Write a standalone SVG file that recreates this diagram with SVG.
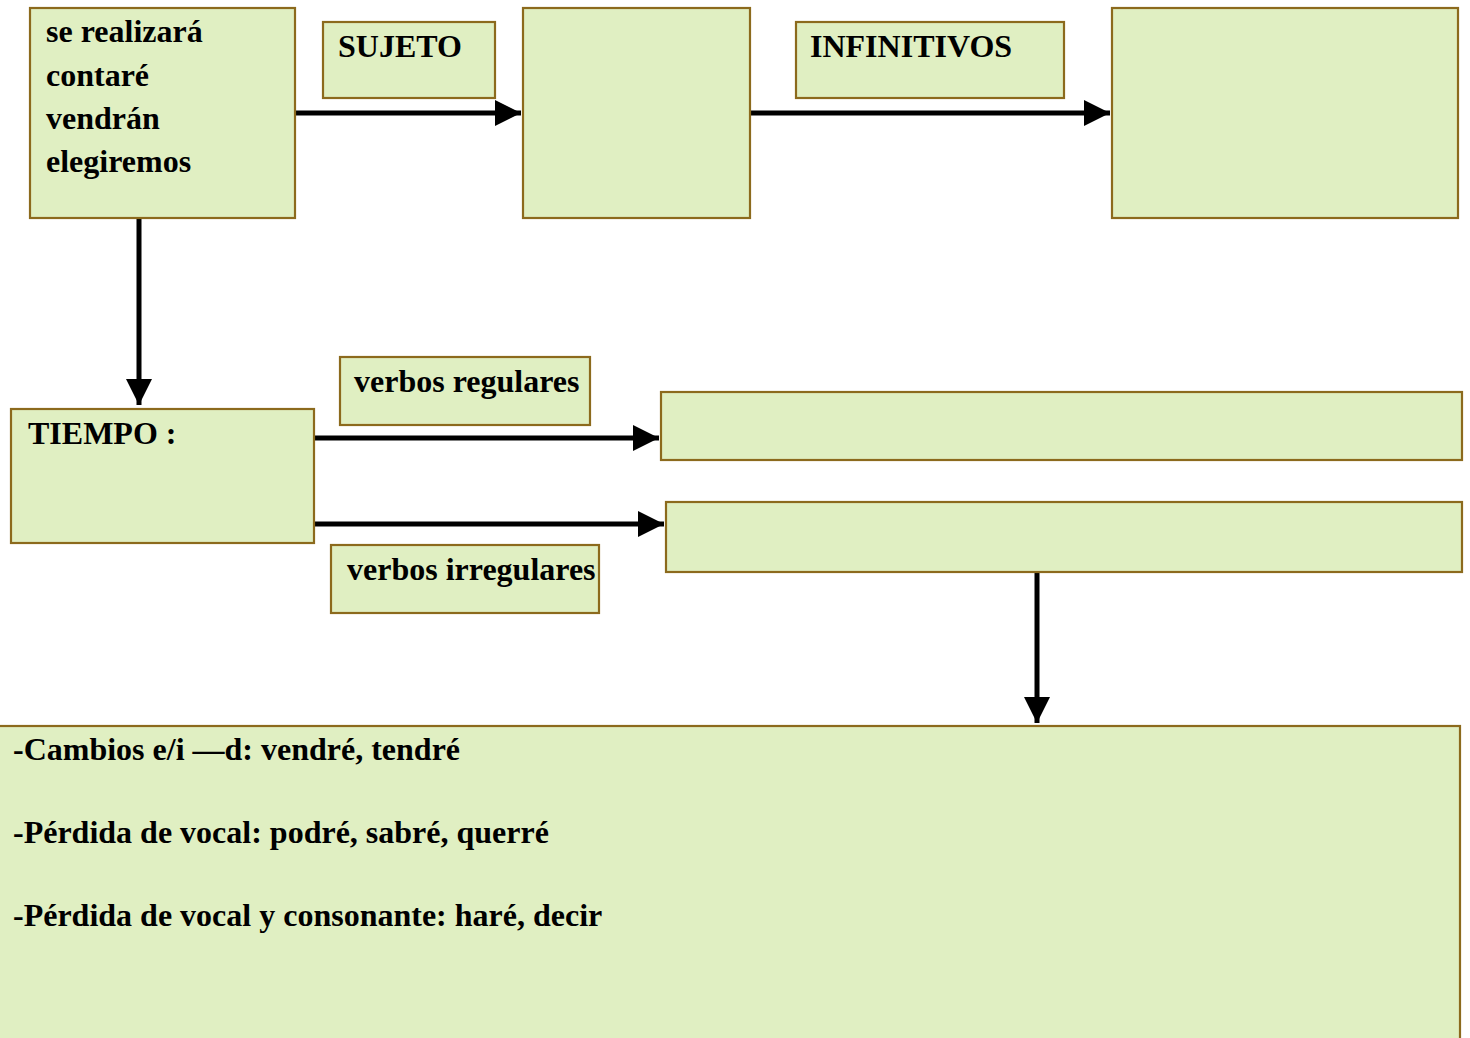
<svg xmlns="http://www.w3.org/2000/svg" width="1470" height="1038" viewBox="0 0 1470 1038">
<style>
.box{fill:#e0efc2;stroke:#8c6a1d;stroke-width:2.2}
.t{font-family:"Liberation Serif","Times New Roman",serif;font-weight:bold;font-size:32px;fill:#000}
.c{stroke:#000;stroke-width:5;fill:none}
</style>
<defs>
<marker id="ah" viewBox="0 0 10 10" refX="10" refY="5" markerWidth="5.2" markerHeight="5.2" markerUnits="strokeWidth" orient="auto">
<path d="M0,0 L10,5 L0,10 Z" fill="#000"/>
</marker>
</defs>
<rect width="1470" height="1038" fill="#fff"/>
<g id="connectors">
<line class="c" x1="296" y1="113" x2="521" y2="113" marker-end="url(#ah)"/>
<line class="c" x1="751" y1="113" x2="1110" y2="113" marker-end="url(#ah)"/>
<line class="c" x1="139" y1="218" x2="139" y2="405" marker-end="url(#ah)"/>
<line class="c" x1="315" y1="438" x2="659" y2="438" marker-end="url(#ah)"/>
<line class="c" x1="315" y1="524" x2="664" y2="524" marker-end="url(#ah)"/>
<line class="c" x1="1037" y1="572" x2="1037" y2="723" marker-end="url(#ah)"/>
</g>
<g id="node-verbs">
<rect class="box" x="30" y="8" width="265" height="210"/>
<text class="t" x="46" y="42">se realizará</text>
<text class="t" x="46" y="86">contaré</text>
<text class="t" x="46" y="129">vendrán</text>
<text class="t" x="46" y="172">elegiremos</text>
</g>
<g id="node-sujeto">
<rect class="box" x="323" y="22" width="172" height="76"/>
<text class="t" x="338" y="57">SUJETO</text>
</g>
<g id="node-box2">
<rect class="box" x="523" y="8" width="227" height="210"/>
</g>
<g id="node-infinitivos">
<rect class="box" x="796" y="22" width="268" height="76"/>
<text class="t" x="810" y="57">INFINITIVOS</text>
</g>
<g id="node-box3">
<rect class="box" x="1112" y="8" width="346" height="210"/>
</g>
<g id="node-tiempo">
<rect class="box" x="11" y="409" width="303" height="134"/>
<text class="t" x="28" y="444">TIEMPO :</text>
</g>
<g id="node-regulares-label">
<rect class="box" x="340" y="357" width="250" height="68"/>
<text class="t" x="354" y="392">verbos regulares</text>
</g>
<g id="node-regulares">
<rect class="box" x="661" y="392" width="801" height="68"/>
</g>
<g id="node-irregulares">
<rect class="box" x="666" y="502" width="796" height="70"/>
</g>
<g id="node-irregulares-label">
<rect class="box" x="331" y="545" width="268" height="68"/>
<text class="t" x="347" y="580">verbos irregulares</text>
</g>
<g id="node-cambios">
<rect class="box" x="-2" y="726" width="1462" height="330"/>
<text class="t" x="13" y="760">-Cambios e/i —d: vendré, tendré</text>
<text class="t" x="13" y="843">-Pérdida de vocal: podré, sabré, querré</text>
<text class="t" x="13" y="926">-Pérdida de vocal y consonante: haré, decir</text>
</g>
</svg>
